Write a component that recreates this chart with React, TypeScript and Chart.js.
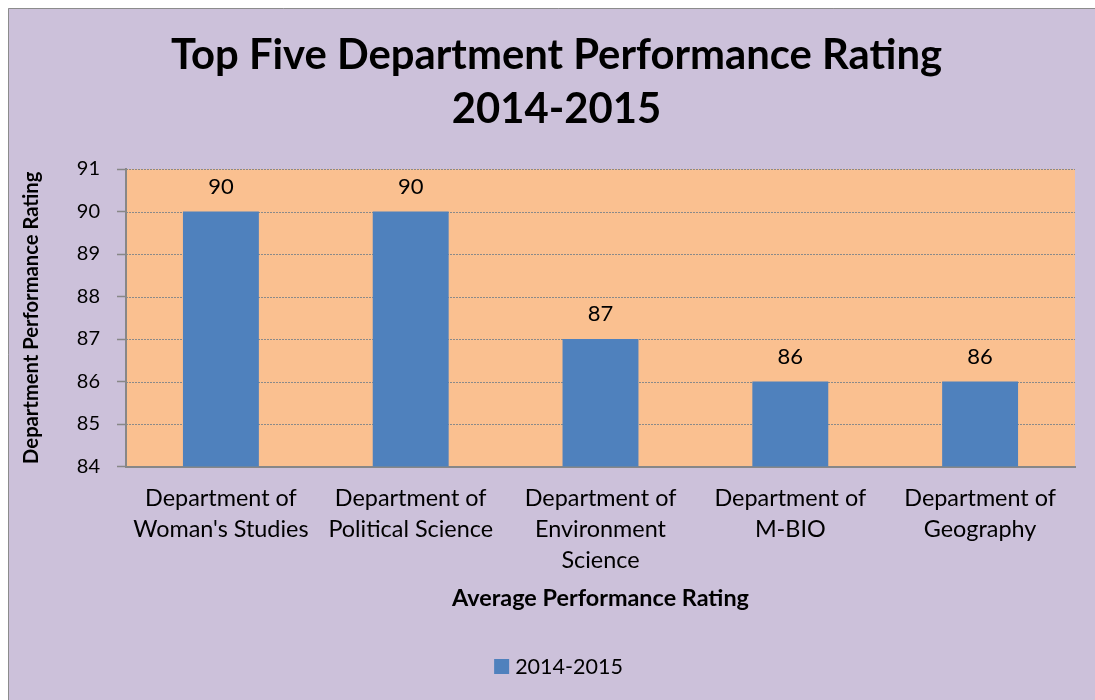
import React, { useEffect, useRef } from "react";
import { Chart, registerables } from "chart.js";

Chart.register(...registerables);

const categories: string[][] = [
  ["Department of", "Woman's Studies"],
  ["Department of", "Political Science"],
  ["Department of", "Environment", "Science"],
  ["Department of", "M-BIO"],
  ["Department of", "Geography"],
];
const seriesLabel = "2014-2015";
const values = [90, 90, 87, 86, 86];
const titleLines = ["Top Five Department Performance Rating", "2014-2015"];
const yTitle = "Department Performance Rating";
const xTitle = "Average Performance Rating";
const yMin = 84;
const yMax = 91;
const yStep = 1;

const FONT = "Lato, 'DejaVu Sans', sans-serif";
const W = 1100;
const H = 692;

export default function App() {
  const ref = useRef<HTMLCanvasElement | null>(null);

  useEffect(() => {
    document.documentElement.style.overflow = "hidden";
    document.body.style.overflow = "hidden";
    document.body.style.background = "#ffffff";
    const canvas = ref.current;
    if (!canvas) return;

    const bgPlugin = {
      id: "bgPlugin",
      beforeDraw(chart: any) {
        const { ctx, chartArea } = chart;
        ctx.save();
        ctx.fillStyle = "#CCC1DA";
        ctx.fillRect(0, 0, chart.width, chart.height);
        ctx.strokeStyle = "#8C8C8C";
        ctx.lineWidth = 1;
        ctx.beginPath();
        ctx.moveTo(0.5, chart.height);
        ctx.lineTo(0.5, 0.5);
        ctx.lineTo(chart.width, 0.5);
        ctx.stroke();
        ctx.fillStyle = "#FAC090";
        ctx.fillRect(chartArea.left, chartArea.top, chartArea.right - chartArea.left, chartArea.bottom - chartArea.top);
        ctx.restore();
      },
      beforeDatasetsDraw(chart: any) {
        const { ctx, chartArea } = chart;
        const ys = chart.scales.y;
        ctx.save();
        ctx.strokeStyle = "#8A8A8A";
        ctx.lineWidth = 1;
        ctx.setLineDash([2, 1]);
        ys.ticks.forEach((t: any) => {
          const py = Math.round(ys.getPixelForValue(t.value)) + 0.5;
          if (py > chartArea.bottom - 1) return;
          ctx.beginPath();
          ctx.moveTo(chartArea.left, py);
          ctx.lineTo(chartArea.right, py);
          ctx.stroke();
        });
        ctx.restore();
      },
    };

    const overlayPlugin = {
      id: "overlayPlugin",
      afterDraw(chart: any) {
        const { ctx } = chart;
        ctx.save();
        ctx.fillStyle = "#000";
        ctx.textAlign = "center";
        ctx.textBaseline = "alphabetic";
        ctx.font = `bold 41.8px ${FONT}`;
        titleLines.forEach((t, i) => ctx.fillText(t, 548.5, 61 + i * 54));
        ctx.textBaseline = "middle";
        ctx.font = `22px ${FONT}`;
        const meta = chart.getDatasetMeta(0);
        meta.data.forEach((bar: any, i: number) => {
          ctx.fillText(String(chart.data.datasets[0].data[i]), bar.x, bar.y - 25);
        });
        const ds = chart.data.datasets[0];
        ctx.font = `21.5px ${FONT}`;
        const tw = ctx.measureText(ds.label).width;
        const total = 15 + 6 + tw;
        const lx = 550.5 - total / 2;
        ctx.fillStyle = ds.backgroundColor;
        ctx.fillRect(lx, 651, 15, 15);
        ctx.fillStyle = "#000";
        ctx.textAlign = "left";
        ctx.fillText(ds.label, lx + 21, 659);
        ctx.restore();
      },
    };

    const chart = new Chart(canvas, {
      type: "bar",
      data: {
        labels: categories,
        datasets: [
          {
            label: seriesLabel,
            data: values,
            backgroundColor: "#4F81BD",
            barPercentage: 0.4,
            categoryPercentage: 1,
          },
        ],
      },
      options: {
        responsive: false,
        animation: false,
        layout: { padding: { top: 161, right: W - 1067, bottom: 0, left: 0 } },
        plugins: {
          legend: { display: false },
          title: { display: false },
          tooltip: { enabled: false },
        },
        scales: {
          x: {
            grid: { display: false, drawTicks: false },
            border: { display: true, color: "#878787", width: 2 },
            ticks: {
              color: "#000",
              font: { family: FONT, size: 23.4, lineHeight: 1.31 },
              padding: 17,
              maxRotation: 0,
              autoSkip: false,
            },
            title: {
              display: true,
              text: xTitle,
              color: "#000",
              font: { family: FONT, size: 23.4, weight: "bold", lineHeight: 1.2 },
              padding: { top: 0, bottom: 88 },
            },
            afterFit(scale: any) {
              scale.height = H - 458.5;
            },
          },
          y: {
            min: yMin,
            max: yMax,
            grid: {
              drawOnChartArea: false,
              drawTicks: true,
              tickLength: 9,
              tickColor: "#878787",
              tickWidth: 1.5,
            },
            border: { display: true, color: "#878787", width: 2 },
            ticks: {
              stepSize: yStep,
              color: "#000",
              font: { family: FONT, size: 20 },
              padding: 17,
            },
            title: {
              display: true,
              text: yTitle,
              color: "#000",
              font: { family: FONT, size: 20.2, weight: "bold", lineHeight: 1.2 },
              padding: { top: 11.8, bottom: 0 },
            },
            afterFit(scale: any) {
              scale.width = 118;
            },
          },
        },
      },
      plugins: [bgPlugin, overlayPlugin],
    } as any);

    return () => chart.destroy();
  }, []);

  return (
    <div style={{ position: "fixed", left: 8, top: 8, width: W, height: H }}>
      <canvas ref={ref} width={W} height={H} style={{ display: "block", width: W, height: H }} />
    </div>
  );
}
